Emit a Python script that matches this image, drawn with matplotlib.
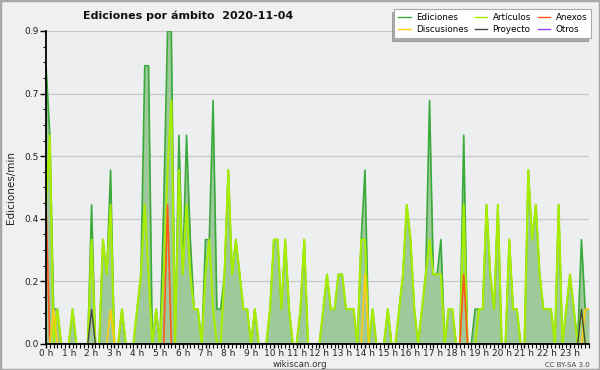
import numpy as np
import matplotlib
matplotlib.use('Agg')
import matplotlib.pyplot as plt
from matplotlib.patches import Rectangle
from matplotlib.ticker import FixedLocator, MultipleLocator

# edits per minute, one value every 10 minutes (144 points, 2 hours per row)
ediciones = [
    0.8, 0.6, 0.1, 0.1, 0, 0, 0, 0.1, 0, 0, 0, 0,
    0.4, 0, 0, 0.3, 0.2, 0.5, 0, 0, 0.1, 0, 0, 0,
    0.1, 0.2, 0.8, 0.8, 0, 0.1, 0, 0.4, 0.9, 0.9, 0, 0.6,
    0.2, 0.6, 0.3, 0.1, 0.1, 0, 0.3, 0.3, 0.7, 0.1, 0.1, 0.2,
    0.5, 0.2, 0.3, 0.2, 0.1, 0.1, 0, 0.1, 0, 0, 0, 0.1,
    0.3, 0.3, 0.1, 0.3, 0.1, 0, 0, 0.1, 0.3, 0, 0, 0,
    0, 0.1, 0.2, 0.1, 0.1, 0.2, 0.2, 0.1, 0.1, 0.1, 0, 0.3,
    0.5, 0, 0.1, 0, 0, 0, 0.1, 0, 0, 0.1, 0.2, 0.4,
    0.3, 0.1, 0, 0.1, 0.2, 0.7, 0.2, 0.2, 0.3, 0, 0.1, 0.1,
    0, 0, 0.6, 0, 0, 0.1, 0.1, 0.1, 0.4, 0.2, 0.1, 0.4,
    0, 0, 0.3, 0.1, 0.1, 0, 0, 0.5, 0.3, 0.4, 0.2, 0.1,
    0.1, 0.1, 0, 0.4, 0, 0.1, 0.2, 0.1, 0, 0.3, 0.1, 0.1,
]
articulos = [
    0.4, 0.6, 0, 0.1, 0, 0, 0, 0.1, 0, 0, 0, 0,
    0.3, 0, 0, 0.3, 0.2, 0.4, 0, 0, 0.1, 0, 0, 0,
    0.1, 0.2, 0.4, 0.2, 0, 0.1, 0, 0.2, 0.5, 0.7, 0, 0.5,
    0.2, 0.4, 0.2, 0.1, 0.1, 0, 0.2, 0.3, 0.1, 0, 0, 0.2,
    0.5, 0.2, 0.3, 0.2, 0.1, 0.1, 0, 0.1, 0, 0, 0, 0.1,
    0.3, 0.3, 0.1, 0.3, 0.1, 0, 0, 0.1, 0.3, 0, 0, 0,
    0, 0.1, 0.2, 0.1, 0.1, 0.2, 0.2, 0.1, 0.1, 0.1, 0, 0.3,
    0.3, 0, 0.1, 0, 0, 0, 0.1, 0, 0, 0.1, 0.2, 0.4,
    0.3, 0.1, 0, 0.1, 0.2, 0.3, 0.2, 0.2, 0.2, 0, 0.1, 0.1,
    0, 0, 0.4, 0, 0, 0, 0.1, 0.1, 0.4, 0.2, 0.1, 0.4,
    0, 0, 0.3, 0.1, 0.1, 0, 0, 0.5, 0.3, 0.4, 0.2, 0.1,
    0.1, 0.1, 0, 0.4, 0, 0.1, 0.2, 0.1, 0, 0.1, 0, 0,
]
anexos = [
    0.4, 0, 0, 0, 0, 0, 0, 0, 0, 0, 0, 0,
    0, 0, 0, 0, 0, 0, 0, 0, 0, 0, 0, 0,
    0, 0, 0, 0, 0, 0, 0, 0, 0.4, 0, 0, 0,
    0, 0, 0, 0, 0, 0, 0, 0, 0, 0, 0, 0,
    0, 0, 0, 0, 0, 0, 0, 0, 0, 0, 0, 0,
    0, 0, 0, 0, 0, 0, 0, 0, 0, 0, 0, 0,
    0, 0, 0, 0, 0, 0, 0, 0, 0, 0, 0, 0,
    0, 0, 0, 0, 0, 0, 0, 0, 0, 0, 0, 0,
    0, 0, 0, 0, 0, 0, 0, 0, 0, 0, 0, 0,
    0, 0, 0.2, 0, 0, 0, 0, 0, 0, 0, 0, 0,
    0, 0, 0, 0, 0, 0, 0, 0, 0, 0, 0, 0,
    0, 0, 0, 0, 0, 0, 0, 0, 0, 0, 0, 0,
]
discusiones = [
    0, 0, 0.1, 0, 0, 0, 0, 0, 0, 0, 0, 0,
    0, 0, 0, 0, 0, 0.1, 0, 0, 0, 0, 0, 0,
    0, 0, 0, 0, 0, 0, 0, 0, 0, 0, 0, 0,
    0, 0, 0, 0, 0, 0, 0, 0, 0, 0, 0, 0,
    0, 0, 0, 0, 0, 0, 0, 0, 0, 0, 0, 0,
    0, 0, 0, 0, 0, 0, 0, 0, 0, 0, 0, 0,
    0, 0, 0, 0, 0, 0, 0, 0, 0, 0, 0, 0,
    0.2, 0, 0, 0, 0, 0, 0, 0, 0, 0, 0, 0,
    0, 0, 0, 0, 0, 0, 0, 0, 0, 0, 0, 0,
    0, 0, 0, 0, 0, 0, 0, 0, 0, 0, 0, 0,
    0, 0, 0, 0, 0, 0, 0, 0, 0, 0, 0, 0,
    0, 0, 0, 0, 0, 0, 0, 0, 0, 0, 0.1, 0.1,
]
proyecto = [
    0, 0, 0, 0, 0, 0, 0, 0, 0, 0, 0, 0,
    0.1, 0, 0, 0, 0, 0, 0, 0, 0, 0, 0, 0,
    0, 0, 0, 0, 0, 0, 0, 0, 0, 0, 0, 0,
    0, 0, 0, 0, 0, 0, 0, 0, 0, 0, 0, 0,
    0, 0, 0, 0, 0, 0, 0, 0, 0, 0, 0, 0,
    0, 0, 0, 0, 0, 0, 0, 0, 0, 0, 0, 0,
    0, 0, 0, 0, 0, 0, 0, 0, 0, 0, 0, 0,
    0, 0, 0, 0, 0, 0, 0, 0, 0, 0, 0, 0,
    0, 0, 0, 0, 0, 0, 0, 0, 0, 0, 0, 0,
    0, 0, 0, 0, 0, 0, 0, 0, 0, 0, 0, 0,
    0, 0, 0, 0, 0, 0, 0, 0, 0, 0, 0, 0,
    0, 0, 0, 0, 0, 0, 0, 0, 0, 0.1, 0, 0,
]
otros = [0] * 144

hour_labels = ['%d h' % h for h in range(24)]

x = np.arange(len(ediciones))

fig = plt.figure(figsize=(6, 3.7), dpi=100, facecolor='#f0f0f0')
ax = fig.add_axes([0.0767, 0.0703, 0.905, 0.846])
ax.set_facecolor('#eceef0')

ax.fill_between(x, ediciones, 0, color='#9dc99b', lw=0, zorder=1.5)
ax.plot(x, ediciones, color='#3aaa3a', lw=1.2, label='Ediciones', zorder=2)
ax.plot(x, articulos, color='#a8ec00', lw=1.5, label='Artículos', zorder=2.1)
ax.plot(x, anexos, color='#ff5a1a', lw=1.2, label='Anexos', zorder=2.2)
ax.plot(x, discusiones, color='#ffcc10', lw=1.2, label='Discusiones', zorder=2.2)
ax.plot(x, proyecto, color='#444444', lw=1.0, label='Proyecto', zorder=2.3)
ax.plot(x, otros, color='#9040ff', lw=1.0, label='Otros', zorder=1.2)

ax.set_xlim(0, len(x) - 1)
ax.set_ylim(0, 0.9)

yt = np.linspace(0, 0.9, 6)
ax.yaxis.set_major_locator(FixedLocator(yt))
ax.set_yticklabels(['%.1f' % v for v in yt])
ax.yaxis.set_minor_locator(MultipleLocator(0.045))
ax.xaxis.set_major_locator(FixedLocator(np.arange(0, 144, 6)))
ax.set_xticklabels(hour_labels)
ax.xaxis.set_minor_locator(MultipleLocator(1))

ax.tick_params(axis='both', which='major', labelsize=6.5, length=4, width=1,
               pad=1.5, color='black', labelcolor='#222222')
ax.tick_params(axis='y', which='minor', length=2.5, width=0.8)
ax.tick_params(axis='x', which='minor', length=3, width=0.8)
ax.tick_params(axis='x', which='major', length=3, pad=0.5)

ax.grid(axis='y', color='#c8c8c8', lw=0.9, zorder=0)
ax.set_axisbelow(True)
for s in ['top', 'right']:
    ax.spines[s].set_visible(False)
for s in ['left', 'bottom']:
    ax.spines[s].set_color('black')
    ax.spines[s].set_linewidth(1.3)
    ax.spines[s].set_zorder(3)

ax.set_ylabel('Ediciones/min', fontsize=7.5, labelpad=6, color='#222222')

handles, labels = ax.get_legend_handles_labels()
order = [0, 3, 1, 4, 2, 5]
leg = fig.legend([handles[k] for k in order], [labels[k] for k in order],
                 ncol=3, loc='upper right', bbox_to_anchor=(0.985, 0.976),
                 borderaxespad=0, fontsize=6.3, handlelength=1.4,
                 handletextpad=0.6, columnspacing=0.8, labelspacing=0.35,
                 borderpad=0.45, fancybox=False, edgecolor='#aaaaaa',
                 framealpha=1,
                 shadow={'ox': -2, 'oy': -2, 'shade': 0.45, 'alpha': 0.7})
leg.get_frame().set_linewidth(0.8)
for ln in leg.get_lines():
    ln.set_linewidth(1.0)

fig.text(0.313, 0.958, 'Ediciones por ámbito  2020-11-04', ha='center',
         va='center', fontsize=8, fontweight='bold', color='#111111')
fig.text(0.5, 0.014, 'wikiscan.org', ha='center', va='center',
         fontsize=6.3, color='#333333')
fig.text(0.983, 0.014, 'CC BY-SA 3.0', ha='right', va='center',
         fontsize=5, color='#444444')

fig.patches.append(Rectangle((0, 0), 1, 1, transform=fig.transFigure,
                             fill=False, edgecolor='#a8a8a8', lw=2.5))

fig.savefig('out.png', dpi=100, facecolor=fig.get_facecolor())
